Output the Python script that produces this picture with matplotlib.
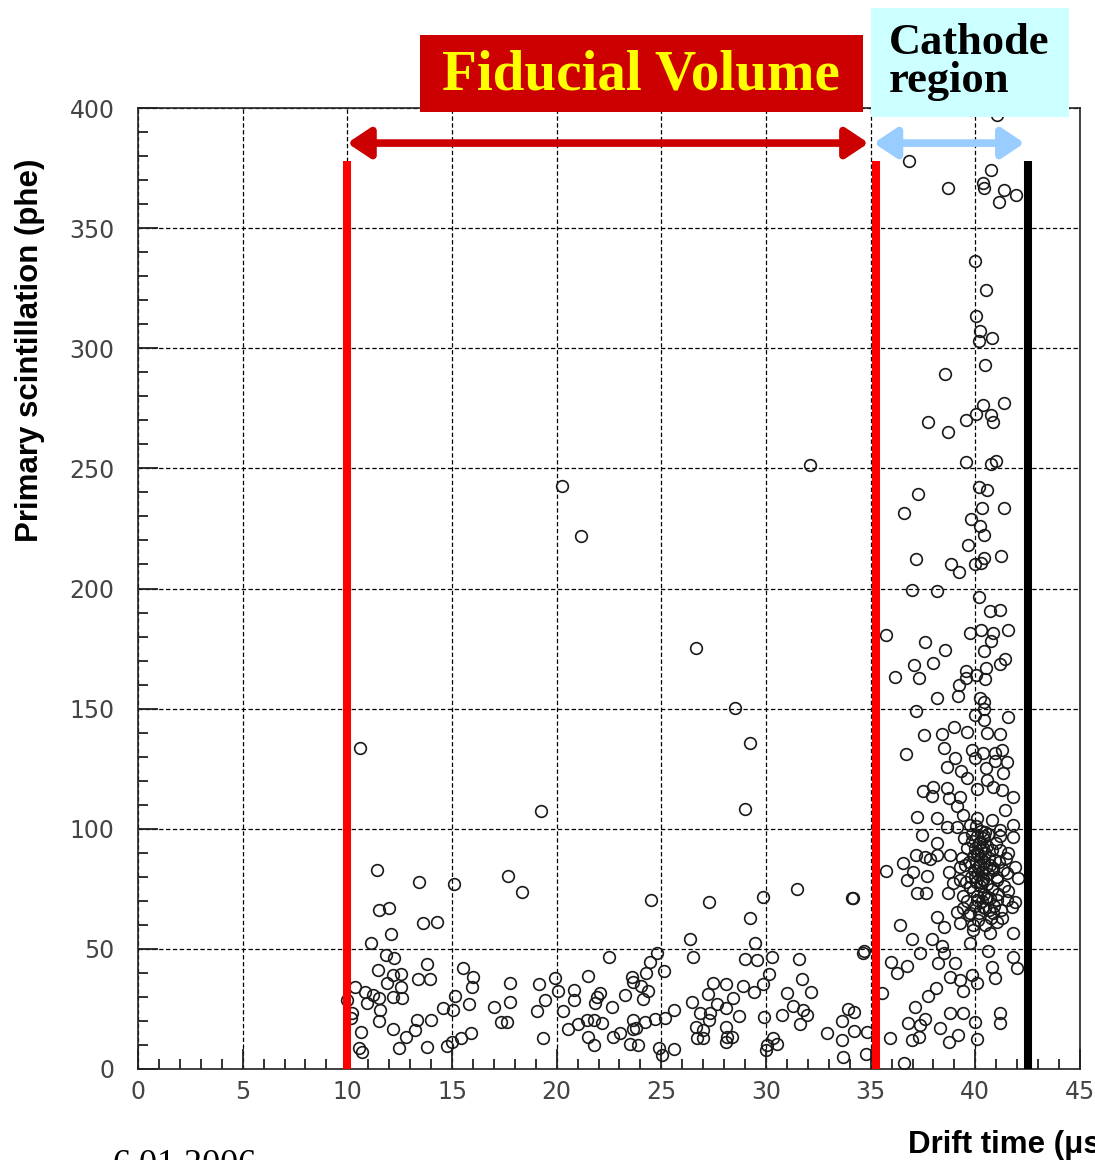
import matplotlib
matplotlib.use("Agg")
import matplotlib.pyplot as plt
from matplotlib.patches import FancyArrowPatch, Rectangle

# hand-read event positions (drift time in us, primary scintillation in phe)
sparse_x = [10.6, 20.26, 21.17, 32.1, 26.66, 28.5, 29.24, 29.0, 19.25, 9.97]
sparse_y = [133.6, 242.7, 221.9, 251.4, 175.2, 150.3, 135.7, 108.2, 107.4, 28.7]

# 10 - 22.5 us band
low1_x = [11.40, 13.44, 15.10, 17.66, 18.33, 11.52, 12.01, 13.63, 14.30, 12.09, 11.12, 11.85, 12.25, 11.48,
          13.79, 15.51, 16.02, 15.94, 12.17, 12.57, 13.39, 13.95, 11.88, 12.57, 10.37, 10.85, 11.24, 11.53,
          12.20, 12.60, 10.93, 11.56, 11.53, 10.21, 10.16, 10.64, 10.57, 10.69, 12.20, 12.79, 12.47, 13.23,
          13.31, 13.79, 14.00, 14.59, 15.07, 15.15, 14.78, 14.99, 15.43, 15.91, 15.83, 17.01, 17.77, 17.77,
          17.34, 17.61, 19.17, 19.92, 20.08, 19.45, 19.05, 19.37, 20.32, 20.85, 20.85, 21.52, 20.56, 21.04,
          21.44, 21.76, 21.52, 21.80, 22.15, 21.92, 22.07, 21.83, 22.52]
low1_y = [82.8, 77.7, 77.0, 80.3, 73.8, 66.2, 67.1, 60.6, 61.3, 56.1, 52.6, 47.5, 46.1, 41.2,
          43.7, 42.2, 38.5, 34.3, 39.1, 39.4, 37.3, 37.3, 35.7, 34.3, 34.3, 32.2, 30.8, 29.4,
          30.1, 29.4, 27.6, 24.6, 20.0, 23.2, 21.1, 15.5, 8.6, 7.2, 16.5, 13.5, 8.9, 16.2,
          20.4, 9.3, 20.4, 25.5, 24.6, 30.5, 9.6, 11.4, 12.8, 14.9, 26.9, 25.7, 35.7, 27.8,
          19.7, 19.7, 35.4, 38.0, 32.6, 28.7, 24.1, 13.0, 24.1, 32.9, 28.7, 38.7, 16.6, 18.7,
          20.4, 20.4, 13.2, 10.0, 19.0, 30.1, 31.8, 27.3, 46.8]

# 22.5 - 35 us band
low2_x = [24.50, 27.30, 29.85, 31.50, 34.10, 34.15, 29.24, 26.37, 26.50, 24.81, 24.46, 29.48, 29.00, 29.56,
          30.28, 31.58, 34.62, 34.70, 25.15, 24.27, 23.59, 23.67, 24.03, 24.38, 24.14, 23.27, 22.63, 30.16,
          29.87, 28.89, 29.43, 28.09, 27.49, 27.25, 28.44, 27.65, 28.09, 26.45, 26.85, 27.33, 27.28, 28.73,
          29.92, 30.75, 31.31, 30.99, 31.74, 32.16, 31.79, 31.95, 31.63, 25.61, 25.18, 24.70, 24.22, 23.67,
          23.79, 23.63, 23.03, 22.71, 23.51, 23.90, 24.91, 25.02, 25.61, 26.65, 27.01, 26.69, 27.01, 28.09,
          28.13, 28.37, 28.09, 29.99, 30.04, 30.35, 30.51, 32.90, 33.62, 33.94, 34.18, 34.21, 33.65, 34.82,
          33.70, 34.78]
low2_y = [70.3, 69.6, 71.5, 74.9, 71.3, 71.0, 63.0, 54.0, 46.8, 48.2, 44.7, 52.3, 45.7, 45.4,
          46.8, 45.7, 48.4, 49.0, 40.8, 39.8, 38.4, 36.4, 34.5, 32.6, 29.1, 30.8, 26.0, 39.5,
          35.4, 34.7, 32.2, 35.4, 35.7, 31.2, 29.4, 27.1, 25.3, 28.0, 23.2, 23.4, 20.4, 22.2,
          21.5, 22.5, 26.2, 31.8, 37.5, 31.9, 24.6, 22.5, 18.6, 24.6, 21.4, 20.8, 19.7, 20.4,
          16.9, 16.6, 14.9, 13.5, 10.3, 10.0, 8.6, 5.8, 8.2, 17.6, 16.2, 12.8, 12.8, 17.6,
          13.5, 13.5, 11.4, 7.9, 10.0, 12.8, 10.4, 14.9, 20.1, 25.0, 23.6, 16.0, 12.1, 15.2,
          4.9, 6.2]

# cathode region, below 150 phe
cat_lo_x = [37.17, 37.57, 38.40, 39.00, 39.59, 40.55, 41.18, 41.55, 40.42, 40.42, 40.42, 39.99, 36.68, 38.48,
            39.03, 38.67, 39.32, 39.83, 39.99, 40.39, 40.95, 41.27, 41.50, 40.95, 41.31, 40.51, 39.59, 40.55,
            37.52, 37.99, 37.92, 38.67, 38.76, 39.27, 39.11, 40.07, 40.83, 41.27, 41.82, 41.43, 37.20, 38.16,
            37.44, 38.16, 38.63, 39.43, 39.75, 39.11, 40.07, 40.78, 41.82, 41.82, 41.18, 40.47, 37.60, 37.84,
            38.16, 37.17, 36.53, 35.74, 37.04, 36.73, 37.68, 37.20, 37.65, 38.76, 38.79, 38.95, 38.71, 39.27,
            39.27, 41.18, 41.58, 41.90, 42.06, 41.50, 41.02, 40.86, 40.39, 39.75, 41.50, 41.90, 41.74, 41.02,
            40.55, 40.07, 39.43, 39.11, 39.75, 40.39, 40.86, 41.27, 38.16, 38.48, 39.27, 39.91, 40.70, 41.78,
            39.75, 36.41, 36.96, 37.92, 38.40, 38.48, 37.36, 40.62, 35.96, 36.73, 36.28, 38.24, 39.03, 38.79,
            39.27, 39.83, 40.07, 40.78, 40.95, 41.78, 41.97, 39.43, 38.13, 37.76, 37.12, 37.60, 37.36, 36.80,
            35.93, 35.53, 36.96, 37.33, 38.32, 38.79, 39.43, 38.76, 39.19, 39.99, 40.07, 41.18, 41.18, 36.57]
cat_lo_y = [149.2, 139.0, 139.3, 142.2, 140.4, 139.7, 139.3, 146.4, 152.9, 149.7, 145.3, 147.3, 131.0, 133.5,
            129.3, 125.8, 124.0, 132.8, 129.3, 131.4, 131.4, 132.8, 127.7, 128.2, 123.1, 125.2, 121.0, 120.3,
            115.8, 117.3, 113.6, 116.8, 112.7, 113.3, 109.5, 116.4, 117.3, 116.1, 113.3, 107.8, 104.8, 104.3,
            97.4, 93.9, 100.9, 105.7, 101.6, 100.9, 104.3, 103.6, 101.6, 96.7, 99.5, 98.8, 88.4, 87.3,
            89.1, 89.1, 85.6, 82.6, 82.1, 78.7, 80.3, 73.1, 73.4, 82.1, 89.1, 77.6, 73.1, 84.2,
            78.7, 91.2, 89.8, 84.2, 79.4, 81.5, 78.7, 83.5, 78.7, 75.9, 70.3, 69.6, 67.6, 70.3,
            71.7, 70.3, 66.9, 65.5, 64.8, 67.6, 64.8, 62.7, 63.4, 59.3, 60.6, 57.9, 56.5, 56.5,
            52.3, 59.9, 54.0, 54.0, 51.2, 48.2, 48.2, 49.2, 44.7, 43.0, 40.1, 44.0, 44.0, 38.5,
            37.0, 39.1, 35.7, 42.6, 37.8, 46.8, 41.9, 32.5, 33.6, 30.4, 25.9, 20.7, 18.3, 19.0,
            12.8, 31.5, 12.1, 13.5, 16.9, 23.2, 23.2, 11.4, 14.2, 19.7, 12.4, 23.2, 19.0, 2.4]

# dense core around 40 us, 60-100 phe
core_x = [39.62, 39.70, 39.78, 39.85, 39.88, 39.92, 39.95, 39.98, 40.00, 40.02, 40.05, 40.08, 40.10, 40.12,
          40.14, 40.16, 40.18, 40.20, 40.22, 40.25, 40.28, 40.30, 40.32, 40.35, 40.38, 40.40, 40.42, 40.45,
          40.48, 40.50, 40.55, 40.58, 40.60, 40.65, 40.70, 40.72, 40.78, 40.80, 40.85, 40.90, 40.95, 41.00,
          41.05, 41.10, 41.15, 41.22, 41.30, 41.35, 41.45, 41.55, 39.55, 39.60, 39.50, 39.45, 39.40, 39.35,
          40.03, 40.25, 40.60, 39.90, 40.15, 40.45, 40.75, 39.72, 41.05, 40.35, 40.12, 40.28, 39.98, 40.06,
          40.22, 40.40, 39.82, 41.20, 40.50, 40.65]
core_y = [92, 86, 80, 95, 74, 89, 83, 68, 92, 78, 86, 97, 72, 89,
          81, 94, 65, 85, 76, 91, 88, 70, 82, 96, 79, 86, 73, 90,
          67, 84, 77, 93, 81, 88, 71, 85, 91, 75, 83, 68, 87, 94,
          80, 73, 86, 66, 83, 76, 88, 74, 78, 70, 85, 96, 72, 88,
          101, 99, 98, 60, 62, 60, 63, 64, 61, 92, 84, 78, 80, 90,
          94, 97, 98, 97, 71, 66]

# cathode region, above 150 phe
cat_hi_x = [36.82, 38.68, 40.74, 40.37, 40.42, 41.39, 41.95, 41.15, 41.02, 39.97, 40.53, 40.05, 40.24, 40.16,
            40.82, 40.48, 38.55, 41.39, 40.37, 40.74, 40.85, 40.05, 39.56, 37.76, 38.68, 39.56, 40.77, 40.97,
            40.16, 40.56, 37.26, 41.39, 40.32, 36.58, 39.81, 40.21, 40.42, 39.65, 37.15, 38.84, 39.24, 39.97,
            40.42, 41.21, 40.29, 36.98, 38.15, 40.16, 40.69, 41.18, 35.73, 37.60, 38.56, 39.73, 40.29, 40.85,
            41.55, 40.74, 40.42, 36.15, 37.06, 37.31, 38.00, 39.56, 40.05, 40.53, 41.18, 41.42, 39.21, 39.56,
            40.45, 38.19, 39.16, 40.21]
cat_hi_y = [377.9, 366.5, 374.0, 368.7, 366.5, 366.0, 363.9, 360.7, 397.1, 336.4, 324.1, 313.6, 307.2, 303.2,
            304.2, 293.0, 289.3, 277.3, 276.2, 272.2, 269.3, 272.8, 270.1, 269.3, 265.3, 252.6, 251.8, 253.0,
            242.2, 241.1, 239.5, 233.4, 233.4, 231.5, 229.1, 226.2, 222.2, 218.2, 212.3, 210.2, 207.0, 210.2,
            212.6, 213.4, 210.7, 199.4, 199.0, 196.6, 190.6, 191.1, 180.7, 177.8, 174.6, 181.5, 182.6, 181.5,
            182.6, 178.3, 174.0, 163.1, 168.2, 162.6, 169.0, 165.8, 163.9, 167.1, 168.7, 170.6, 159.9, 162.6,
            162.3, 154.3, 155.1, 154.3]

drift_x = sparse_x + low1_x + low2_x + cat_lo_x + core_x + cat_hi_x
phe_y = sparse_y + low1_y + low2_y + cat_lo_y + core_y + cat_hi_y

fid_lo, fid_hi, cathode = 10, 35.25, 42.5
cut_top = 378
arrow_y = 385.4

fig = plt.figure(figsize=(10.95, 11.6), dpi=100)
ax = fig.add_axes([138 / 1095, 91 / 1160, 942 / 1095, 961 / 1160])

ax.plot(drift_x, phe_y, 'o', mfc='none', mec='#1a1a1a', ms=8.4, mew=1.2, zorder=3)

ax.set_xlim(0, 45)
ax.set_ylim(0, 400)
ax.set_xticks(range(0, 46, 5))
ax.set_xticks(range(0, 46, 1), minor=True)
ax.set_yticks(range(0, 401, 50))
ax.set_yticks(range(0, 401, 10), minor=True)
ax.tick_params(which='both', direction='in', width=1.3, colors='#222222',
               labelcolor='#444444', labelsize=17)
ax.tick_params(which='major', length=14.5)
ax.tick_params(which='minor', length=7.2)
ax.tick_params(axis='y', pad=17)
ax.tick_params(axis='x', pad=8)
for s in ax.spines.values():
    s.set_linewidth(1.2)
    s.set_color('#222222')
ax.grid(True, which='major', color='black', linestyle=(0, (3.5, 2)), linewidth=0.9, zorder=1)

# cut lines
ax.plot([fid_lo, fid_lo], [0, cut_top], color='#ff0000', lw=5.8, solid_capstyle='butt', zorder=4)
ax.plot([fid_hi, fid_hi], [0, cut_top], color='#ff0000', lw=5.8, solid_capstyle='butt', zorder=4)
ax.plot([cathode, cathode], [0, cut_top], color='black', lw=5.8, solid_capstyle='butt', zorder=4)

# arrows
ax.add_patch(FancyArrowPatch((fid_lo, arrow_y), (34.9, arrow_y), arrowstyle='<|-|>,head_length=0.45,head_width=0.3',
                             mutation_scale=30, lw=5.5, color='#cc0000', shrinkA=0, shrinkB=0,
                             clip_on=False, zorder=5))
ax.add_patch(FancyArrowPatch((35.15, arrow_y), (42.35, arrow_y), arrowstyle='<|-|>,head_length=0.45,head_width=0.3',
                             mutation_scale=30, lw=5.5, color='#99ccff', shrinkA=0, shrinkB=0,
                             clip_on=False, zorder=5))

# label boxes
fig.add_artist(Rectangle((420 / 1095, 1 - 112 / 1160), 443 / 1095, 77 / 1160,
                         transform=fig.transFigure, facecolor='#cc0000', edgecolor='none', zorder=6))
fig.text(641 / 1095, 1 - 76 / 1160, 'Fiducial Volume', color='#ffff00', fontsize=41,
         family='Liberation Serif', weight='bold', ha='center', va='center', zorder=7)
fig.add_artist(Rectangle((871 / 1095, 1 - 117 / 1160), 198 / 1095, 109 / 1160,
                         transform=fig.transFigure, facecolor='#ccffff', edgecolor='none', zorder=6))
fig.text(889 / 1095, 1 - 62 / 1160, 'Cathode\nregion', color='black', fontsize=32,
         family='Liberation Serif', weight='bold', ha='left', va='center', linespacing=0.95, zorder=7)

fig.text(30 / 1095, 1 - 350 / 1160, 'Primary scintillation (phe)', rotation=90, fontsize=22.5,
         family='Liberation Sans', weight='bold', ha='center', va='center')
fig.text(908 / 1095, 1 - 1145 / 1160, 'Drift time (\u03bcs)', fontsize=22.5,
         family='Liberation Sans', weight='bold', ha='left', va='center')
fig.text(112 / 1095, 1 - 1174 / 1160, '6.01.2006', fontsize=26, family='Liberation Serif',
         ha='left', va='baseline')

fig.savefig('out.png', dpi=100)
